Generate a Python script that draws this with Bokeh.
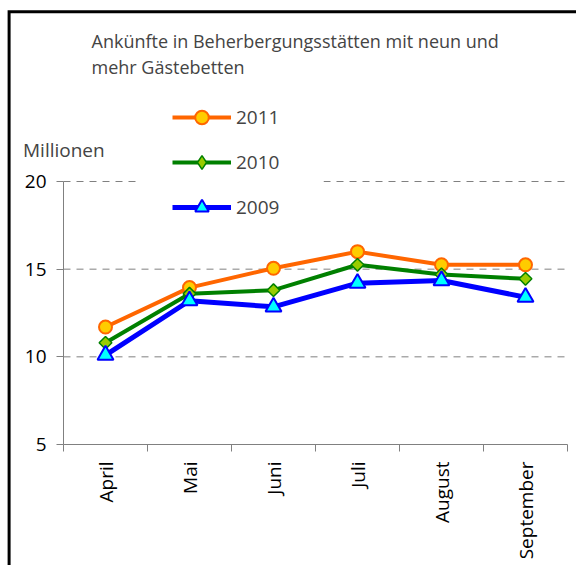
import math
from bokeh.plotting import figure
from bokeh.models import FixedTicker, Legend, LegendItem, Label, Range1d, BoxAnnotation
from bokeh.embed import file_html
from bokeh.resources import INLINE

months = ["April", "Mai", "Juni", "Juli", "August", "September"]
y2011 = [11.7, 13.95, 15.05, 16.0, 15.25, 15.25]
y2010 = [10.8, 13.6, 13.8, 15.25, 14.7, 14.45]
y2009 = [10.1, 13.2, 12.85, 14.2, 14.35, 13.4]
series_names = ["2011", "2010", "2009"]
y_ticks = [5, 10, 15, 20]
title_lines = ["Ankünfte in Beherbergungsstätten mit neun und", "mehr Gästebetten"]
unit_label = "Millionen"

FONT = "Open Sans"
W, H = 576, 565
xs = list(range(len(months)))

# layout geometry (canvas pixels)
AXIS_X = 63.0      # pixel column of the y axis
AXIS_Y = 444.0     # pixel row of the x axis (value y_ticks[0])
CAT_PX = 84.0      # width of one category
UNIT_PX = 17.533   # pixels per million


def xd(px):
    return -0.5 + (px - AXIS_X) / CAT_PX


def yd(py):
    return min(y_ticks) + (AXIS_Y - py) / UNIT_PX


p = figure(width=W, height=H, output_backend="svg", toolbar_location=None,
           x_range=Range1d(xd(0), xd(W)), y_range=Range1d(yd(H), yd(0)),
           min_border_left=0, min_border_right=0, min_border_top=0,
           min_border_bottom=0)
p.outline_line_color = None
p.background_fill_color = "white"
p.border_fill_color = "white"
p.xgrid.grid_line_color = None
p.ygrid.grid_line_color = None

# chart frame (black border at top and left)
p.line(x=[xd(8.6), xd(8.6), xd(W + 20)], y=[yd(H + 20), yd(11.2), yd(11.2)],
       line_color="black", line_width=3, line_join="miter")

# x axis
xa = p.xaxis[0]
xa.fixed_location = min(y_ticks)
xa.bounds = (-0.5, len(months) - 0.5)
xa.ticker = FixedTicker(ticks=xs, minor_ticks=[i - 0.5 for i in range(len(months) + 1)])
xa.major_label_overrides = {i: m for i, m in enumerate(months)}
xa.major_label_orientation = math.pi / 2
xa.major_tick_line_color = None
xa.major_tick_out = 7
xa.major_tick_in = 0
xa.minor_tick_out = 7
xa.minor_tick_in = 0
xa.minor_tick_line_color = "#808080"
xa.axis_line_color = "#808080"
xa.major_label_standoff = 10
xa.major_label_text_font = FONT
xa.major_label_text_font_size = "19px"
xa.major_label_text_color = "black"

# y axis
ya = p.yaxis[0]
ya.fixed_location = -0.5
ya.bounds = (min(y_ticks), max(y_ticks))
ya.ticker = FixedTicker(ticks=y_ticks)
ya.major_tick_out = 7
ya.major_tick_in = 0
ya.minor_tick_line_color = None
ya.major_tick_line_color = "#808080"
ya.axis_line_color = "#808080"
ya.major_label_standoff = 10
ya.major_label_text_font = FONT
ya.major_label_text_font_size = "19px"
ya.major_label_text_color = "black"

# dashed horizontal grid lines
grid_vals = [t for t in y_ticks if t > min(y_ticks)]
p.segment(x0=[-0.5] * len(grid_vals), y0=grid_vals,
          x1=[len(months) - 0.5] * len(grid_vals), y1=grid_vals,
          line_color="#808080", line_width=1, line_dash="7 6")

# series
l1 = p.line(xs, y2011, line_color="#FF6600", line_width=4, level="overlay")
s1 = p.scatter(xs, y2011, marker="circle", size=13, fill_color="#FFCC00",
               line_color="#FF6600", line_width=2, level="overlay")
l2 = p.line(xs, y2010, line_color="#008000", line_width=4, level="overlay")
k2 = p.scatter(xs, y2010, marker="diamond", size=10, fill_color="#99CC00",
               line_color="#008000", line_width=1.5, level="overlay")
s2 = p.scatter(xs, y2010, marker="square", angle=math.pi / 4, size=9,
               fill_color="#99CC00", line_color="#008000", line_width=1.5, level="overlay")
l3 = p.line(xs, y2009, line_color="#0000FF", line_width=5, level="overlay")
s3 = p.scatter(xs, y2009, marker="triangle", size=16, fill_color="#00FFFF",
               line_color="#0000FF", line_width=2, level="overlay")

# white legend box
p.add_layout(BoxAnnotation(left=xd(138), right=xd(323), top=yd(92), bottom=yd(234),
                           fill_color="white", fill_alpha=1.0, line_color=None))

items = [LegendItem(label=n, renderers=rs)
         for n, rs in zip(series_names, [[l1, s1], [l2, k2], [l3, s3]])]
legend = Legend(items=items, location=(172, 341), padding=0, margin=0, spacing=11,
                glyph_width=59, glyph_height=34, label_height=34, label_standoff=5,
                label_text_font=FONT, label_text_font_size="19px",
                border_line_color=None, background_fill_color="white",
                background_fill_alpha=1.0)
p.add_layout(legend, "center")

# texts
t1 = Label(x=xd(91), y=yd(40), text=title_lines[0],
           text_font=FONT, text_font_size="18px", text_baseline="alphabetic")
t2 = Label(x=xd(91), y=yd(66.5), text=title_lines[1],
           text_font=FONT, text_font_size="18px", text_baseline="alphabetic")
u = Label(x=xd(22.5), y=yd(149), text=unit_label,
          text_font=FONT, text_font_size="19px", text_baseline="alphabetic")
p.add_layout(t1)
p.add_layout(t2)
p.add_layout(u)

open("out.html", "w").write(file_html(p, INLINE))
